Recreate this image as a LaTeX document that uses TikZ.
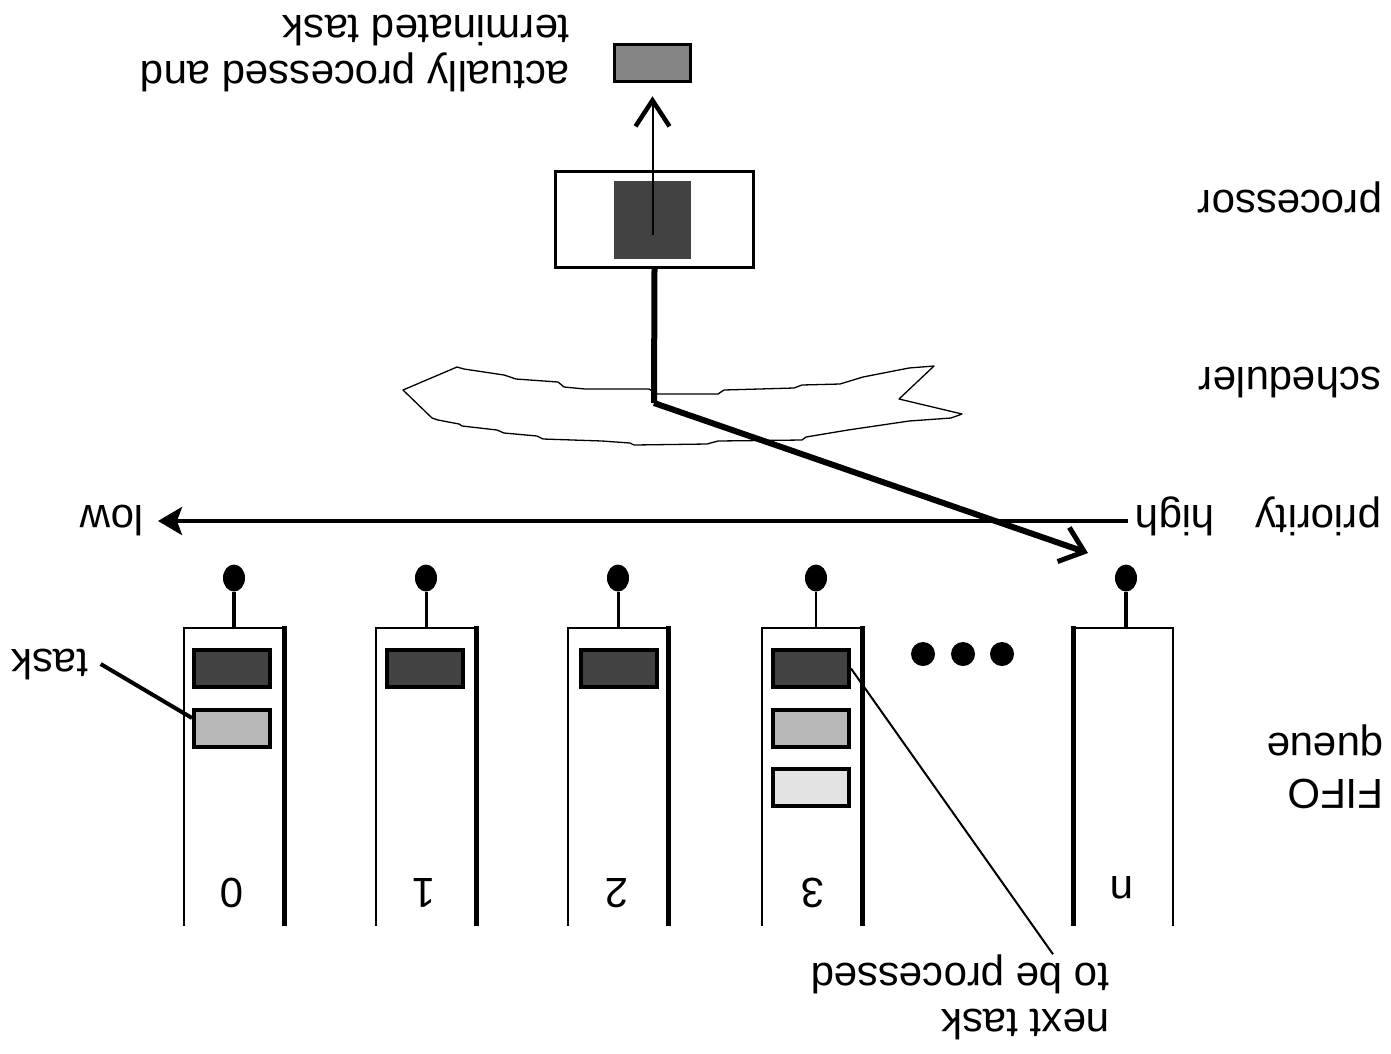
\documentclass[tikz,border=0pt]{standalone}
\usepackage{fontspec}
\setmainfont{Liberation Sans}
\usetikzlibrary{arrows.meta,shapes.geometric}
\definecolor{taskdark}{gray}{0.26}
\definecolor{taskmid}{gray}{0.72}
\definecolor{tasklight}{gray}{0.89}
\definecolor{taskdone}{gray}{0.52}

\begin{document}
\begin{tikzpicture}[x=1pt,y=-1pt,
  lbl/.style={rotate=180, font=\fontsize{42}{46}\selectfont, inner sep=0pt, align=left},
  taskbox/.style={draw, line width=4pt, minimum width=76pt, minimum height=37pt, inner sep=0pt},
  thinwall/.style={line width=2.5pt},
  thickwall/.style={line width=5pt},
  qdot/.style={fill=black, ellipse, minimum width=22pt, minimum height=27pt, inner sep=0pt},
  bigdot/.style={fill=black, circle, minimum size=24pt, inner sep=0pt},
  flow/.style={line width=6pt},
]
\useasboundingbox (0,0) rectangle (1391,1053);

% ---------- processor ----------
\node[draw, line width=3pt, minimum width=198pt, minimum height=96pt, inner sep=0pt] (proc) at (654.5,219.5) {};
\node[fill=taskdark, minimum width=77pt, minimum height=78pt, inner sep=0pt] (cur) at (652.5,220) {};
\node[taskbox, fill=taskdone, line width=3.5pt] (done) at (652.5,63) {};
\draw[line width=2pt, shorten >=13pt,
      -{Straight Barb[length=26pt, width=34pt, line width=4.5pt]}]
  ([yshift=-15pt]cur.center) -- (done.south);
\node[lbl] (donelbl) at (355,54) {actually processed and\\terminated task};

% ---------- scheduler ----------
\draw[line width=1.3pt, line join=round]
  (403,390) -- (457,367) -- (464,369) -- (504,375) -- (516,379) -- (558,382)
  -- (564,387) -- (585,389) -- (649,389) -- (657,394) -- (718,394) -- (724,390)
  -- (794,388) -- (802,385) -- (840,384) -- (863,377) -- (909,368) -- (934,366)
  -- (899,399) -- (962,414) -- (951,418) -- (909,421) -- (882,425) -- (848,430)
  -- (806,437) -- (802,440) -- (718,441) -- (707,444) -- (634,445) -- (630,443)
  -- (602,441) -- (543,439) -- (537,436) -- (504,433) -- (497,430) -- (462,426)
  -- (459,424) -- (438,420) -- (432,418) -- cycle;
\coordinate (sched) at (654,403);
\coordinate (pick) at (1088,553);
\draw[flow, line join=miter] (proc.south) -- (sched);
\draw[flow, -{Straight Barb[length=22pt, width=36pt, line width=5pt]}] (sched) -- (pick);

% ---------- priority axis ----------
\coordinate (hi) at (1128,521);
\coordinate (lo) at (158,521);
\draw[line width=4pt, -{Stealth[length=24pt, width=28pt, inset=5pt]}] (hi) -- (lo);
\node[lbl, anchor=base] (high) at (1175,505) {high};
\node[lbl, anchor=base] (low) at (112,505) {low};

% ---------- FIFO queues ----------
% column 0
\draw[thinwall] (184,926) -- (184,628) -- (284,628);
\draw[thickwall] (284,626) -- (284,926);
% column 1
\draw[thinwall] (376,926) -- (376,628) -- (476,628);
\draw[thickwall] (476,626) -- (476,926);
% column 2
\draw[thinwall] (568,926) -- (568,628) -- (668,628);
\draw[thickwall] (668,626) -- (668,926);
% column 3
\draw[thinwall] (762,926) -- (762,628) -- (862,628);
\draw[thickwall] (862,626) -- (862,926);
% column n
\draw[thinwall] (1073,628) -- (1173,628) -- (1173,926);
\draw[thickwall] (1073,626) -- (1073,926);

% queue heads
\node[qdot] (h0) at (234,578) {};
\node[qdot] (h1) at (426,578) {};
\node[qdot] (h2) at (618,578) {};
\node[qdot] (h3) at (816,578) {};
\node[qdot] (hn) at (1126,578) {};
\coordinate (t0) at (234,628);
\coordinate (t1) at (426,628);
\coordinate (t2) at (618,628);
\coordinate (t3) at (816,628);
\coordinate (tn) at (1126,628);
\draw[line width=4pt] (h0) -- (t0);
\draw[line width=3pt] (h1) -- (t1);
\draw[line width=3pt] (h2) -- (t2);
\draw[line width=2pt] (h3) -- (t3);
\draw[line width=4pt] (hn) -- (tn);

% tasks waiting in the queues
\node[taskbox, fill=taskdark] (q0a) at (232,668.5) {};
\node[taskbox, fill=taskmid]  (q0b) at (232,728) {};
\node[taskbox, fill=taskdark] (q1a) at (425,668.5) {};
\node[taskbox, fill=taskdark] (q2a) at (618.5,668.5) {};
\node[taskbox, fill=taskdark] (q3a) at (811,668.5) {};
\node[taskbox, fill=taskmid]  (q3b) at (811,728) {};
\node[taskbox, fill=tasklight] (q3c) at (811,787.5) {};

% queue numbers
\node[lbl] (n0) at (232,893) {0};
\node[lbl] (n1) at (424,893) {1};
\node[lbl] (n2) at (617,893) {2};
\node[lbl] (n3) at (813,893) {3};
\node[lbl] (nn) at (1122,888) {n};

% ellipsis between column 3 and column n
\node[bigdot] (e1) at (923,654) {};
\node[bigdot] (e2) at (963,654) {};
\node[bigdot] (e3) at (1002,654) {};

% ---------- annotations ----------
\node[lbl] (tasklbl) at (50,664) {task};
\draw[line width=4pt] ([xshift=12pt]tasklbl.west) -- ([yshift=10pt]q0b.west);

\node[lbl] (nextlbl) at (960,997) {next task\\to be processed};
\draw[line width=2pt] ([xshift=93pt]nextlbl.south) -- (q3a.east);

% ---------- layer names ----------
\node[lbl, anchor=base] (lproc) at (1290,190) {processor};
\node[lbl, anchor=base] (lsched) at (1290,367) {scheduler};
\node[lbl, anchor=base] (lprio) at (1318,505) {priority};
\node[lbl] (lfifo) at (1325,767) {FIFO\\queue};
\end{tikzpicture}
\end{document}
